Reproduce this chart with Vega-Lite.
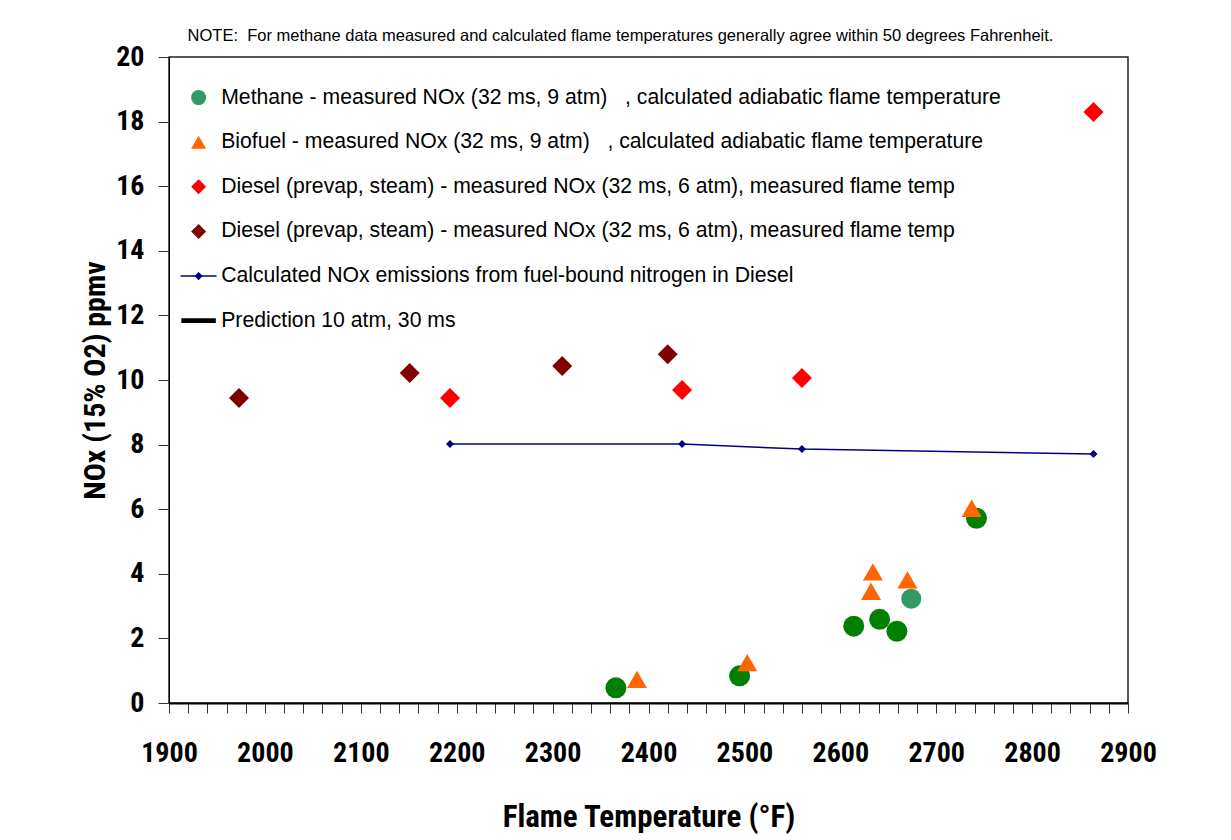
{
  "$schema": "https://vega.github.io/schema/vega-lite/v6.json",
  "width": 959,
  "height": 646,
  "autosize": {"type": "none"},
  "padding": {"left": 169, "top": 57, "right": 103, "bottom": 137},
  "background": "white",
  "title": {
    "text": "NOTE:\u00a0\u00a0For methane data measured and calculated flame temperatures generally agree within 50 degrees Fahrenheit.",
    "anchor": "middle",
    "dx": -28,
    "offset": -1,
    "font": "Liberation Sans",
    "fontSize": 16.5,
    "fontWeight": "normal",
    "color": "black"
  },
  "config": {
    "view": {"stroke": "#222222", "strokeWidth": 1.5},
    "axis": {"grid": false, "domainColor": "black", "tickColor": "#333333", "labelColor": "black", "titleColor": "black"}
  },
  "data": {
    "values": [
      {"series": "MethaneDark", "T": 2366, "NOx": 0.47},
      {"series": "MethaneDark", "T": 2495, "NOx": 0.84},
      {"series": "MethaneDark", "T": 2614, "NOx": 2.38},
      {"series": "MethaneDark", "T": 2641, "NOx": 2.59},
      {"series": "MethaneDark", "T": 2659, "NOx": 2.22},
      {"series": "MethaneDark", "T": 2742, "NOx": 5.72},
      {"series": "Calculated NOx emissions from fuel-bound nitrogen in Diesel", "T": 2193, "NOx": 8.02},
      {"series": "Calculated NOx emissions from fuel-bound nitrogen in Diesel", "T": 2435, "NOx": 8.02},
      {"series": "Calculated NOx emissions from fuel-bound nitrogen in Diesel", "T": 2560, "NOx": 7.86},
      {"series": "Calculated NOx emissions from fuel-bound nitrogen in Diesel", "T": 2864, "NOx": 7.71},
      {"series": "Biofuel - measured NOx (32 ms, 9 atm)\u00a0\u00a0\u00a0, calculated adiabatic flame temperature", "T": 2388, "NOx": 0.73},
      {"series": "Biofuel - measured NOx (32 ms, 9 atm)\u00a0\u00a0\u00a0, calculated adiabatic flame temperature", "T": 2503, "NOx": 1.25},
      {"series": "Biofuel - measured NOx (32 ms, 9 atm)\u00a0\u00a0\u00a0, calculated adiabatic flame temperature", "T": 2634, "NOx": 4.06},
      {"series": "Biofuel - measured NOx (32 ms, 9 atm)\u00a0\u00a0\u00a0, calculated adiabatic flame temperature", "T": 2632, "NOx": 3.46},
      {"series": "Biofuel - measured NOx (32 ms, 9 atm)\u00a0\u00a0\u00a0, calculated adiabatic flame temperature", "T": 2670, "NOx": 3.81},
      {"series": "Biofuel - measured NOx (32 ms, 9 atm)\u00a0\u00a0\u00a0, calculated adiabatic flame temperature", "T": 2737, "NOx": 6.03},
      {"series": "Methane - measured NOx (32 ms, 9 atm)\u00a0\u00a0\u00a0, calculated adiabatic flame temperature", "T": 2674, "NOx": 3.23},
      {"series": "Diesel (prevap, steam) - measured NOx (32 ms, 6 atm), measured flame temp", "T": 2193, "NOx": 9.44},
      {"series": "Diesel (prevap, steam) - measured NOx (32 ms, 6 atm), measured flame temp", "T": 2435, "NOx": 9.69},
      {"series": "Diesel (prevap, steam) - measured NOx (32 ms, 6 atm), measured flame temp", "T": 2560, "NOx": 10.06},
      {"series": "Diesel (prevap, steam) - measured NOx (32 ms, 6 atm), measured flame temp", "T": 2864, "NOx": 18.3},
      {"series": "Diesel (prevap, steam) - measured NOx (32 ms, 6 atm), measured flame temp\u00a0", "T": 1973, "NOx": 9.44},
      {"series": "Diesel (prevap, steam) - measured NOx (32 ms, 6 atm), measured flame temp\u00a0", "T": 2151, "NOx": 10.22},
      {"series": "Diesel (prevap, steam) - measured NOx (32 ms, 6 atm), measured flame temp\u00a0", "T": 2310, "NOx": 10.43},
      {"series": "Diesel (prevap, steam) - measured NOx (32 ms, 6 atm), measured flame temp\u00a0", "T": 2420, "NOx": 10.8}
    ]
  },
  "layer": [
    {
      "transform": [{"filter": "datum.series === 'MethaneDark'"}],
      "mark": {"type": "point", "shape": "circle", "filled": true, "size": 441, "color": "#008000", "opacity": 1},
      "encoding": {
        "x": {
          "field": "T", "type": "quantitative",
          "scale": {"domain": [1900, 2900], "nice": false, "zero": false},
          "axis": {
            "orient": "bottom",
            "values": [1900, 1920, 1940, 1960, 1980, 2000, 2020, 2040, 2060, 2080, 2100, 2120, 2140, 2160, 2180, 2200, 2220, 2240, 2260, 2280, 2300, 2320, 2340, 2360, 2380, 2400, 2420, 2440, 2460, 2480, 2500, 2520, 2540, 2560, 2580, 2600, 2620, 2640, 2660, 2680, 2700, 2720, 2740, 2760, 2780, 2800, 2820, 2840, 2860, 2880, 2900],
            "tickCount": 200,
            "labelExpr": "datum.value % 100 === 0 ? format(datum.value, 'd') : ''",
            "labelOverlap": false,
            "labelFlush": false,
            "tickSize": 10,
            "tickWidth": 1,
            "domainWidth": 2,
            "labelPadding": 26,
            "labelFont": "Roboto Condensed, Liberation Sans",
            "labelFontSize": 28,
            "labelFontWeight": "bold",
            "title": "Flame Temperature (°F)",
            "titleFont": "Roboto Condensed, Liberation Sans",
            "titleFontSize": 31,
            "titleFontWeight": "bold",
            "titlePadding": 35,
            "encode": {
              "ticks": {
                "update": {
                  "y2": {"signal": "datum.value % 100 === 0 ? 10 : -8"}
                }
              }
            }
          }
        },
        "y": {
          "field": "NOx", "type": "quantitative",
          "scale": {"domain": [0, 20], "nice": false},
          "axis": {
            "values": [0, 2, 4, 6, 8, 10, 12, 14, 16, 18, 20],
            "tickSize": 11,
            "tickWidth": 1,
            "domainWidth": 1,
            "labelPadding": 14,
            "labelFont": "Roboto Condensed, Liberation Sans",
            "labelFontSize": 28,
            "labelFontWeight": "bold",
            "title": "NOx (15% O2) ppmv",
            "titleFont": "Roboto Condensed, Liberation Sans",
            "titleFontSize": 30,
            "titleFontWeight": "bold",
            "titlePadding": 5
          }
        }
      }
    },
    {
      "transform": [{"filter": "datum.series === 'Calculated NOx emissions from fuel-bound nitrogen in Diesel'"}],
      "mark": {"type": "line", "color": "#000080", "strokeWidth": 1.5, "point": {"shape": "diamond", "size": 64, "filled": true, "color": "#000080"}},
      "encoding": {
        "x": {"field": "T", "type": "quantitative"},
        "y": {"field": "NOx", "type": "quantitative"}
      }
    },
    {
      "transform": [{"filter": "datum.series !== 'MethaneDark' && datum.series !== 'Calculated NOx emissions from fuel-bound nitrogen in Diesel'"}],
      "mark": {"type": "point", "filled": true, "size": 400, "opacity": 1},
      "encoding": {
        "x": {"field": "T", "type": "quantitative"},
        "y": {"field": "NOx", "type": "quantitative"},
        "color": {
          "field": "series", "type": "nominal",
          "scale": {
            "domain": [
              "Methane - measured NOx (32 ms, 9 atm)\u00a0\u00a0\u00a0, calculated adiabatic flame temperature",
              "Biofuel - measured NOx (32 ms, 9 atm)\u00a0\u00a0\u00a0, calculated adiabatic flame temperature",
              "Diesel (prevap, steam) - measured NOx (32 ms, 6 atm), measured flame temp",
              "Diesel (prevap, steam) - measured NOx (32 ms, 6 atm), measured flame temp\u00a0",
              "Calculated NOx emissions from fuel-bound nitrogen in Diesel",
              "Prediction 10 atm, 30 ms"
            ],
            "range": ["#339966", "#FF6600", "#FF0000", "#800000", "#000080", "#000000"]
          },
          "legend": {
            "title": null,
            "orient": "none",
            "legendX": 19,
            "legendY": 30,
            "symbolSize": 225,
            "symbolStrokeWidth": 0,
            "labelFont": "Liberation Sans",
            "labelFontSize": 21.2,
            "labelColor": "black",
            "labelLimit": 2000,
            "labelOffset": 12,
            "rowPadding": 22.6,
            "symbolOpacity": 1
          }
        },
        "shape": {
          "field": "series", "type": "nominal",
          "scale": {
            "domain": [
              "Methane - measured NOx (32 ms, 9 atm)\u00a0\u00a0\u00a0, calculated adiabatic flame temperature",
              "Biofuel - measured NOx (32 ms, 9 atm)\u00a0\u00a0\u00a0, calculated adiabatic flame temperature",
              "Diesel (prevap, steam) - measured NOx (32 ms, 6 atm), measured flame temp",
              "Diesel (prevap, steam) - measured NOx (32 ms, 6 atm), measured flame temp\u00a0",
              "Calculated NOx emissions from fuel-bound nitrogen in Diesel",
              "Prediction 10 atm, 30 ms"
            ],
            "range": ["circle", "triangle-up", "diamond", "diamond", "M-2.4,-0.1H2.4V0.1H-2.4ZM0,-0.55L0.55,0L0,0.55L-0.55,0Z", "M-2.3,-0.33H2.3V0.33H-2.3Z"]
          }
        }
      }
    }
  ]
}
